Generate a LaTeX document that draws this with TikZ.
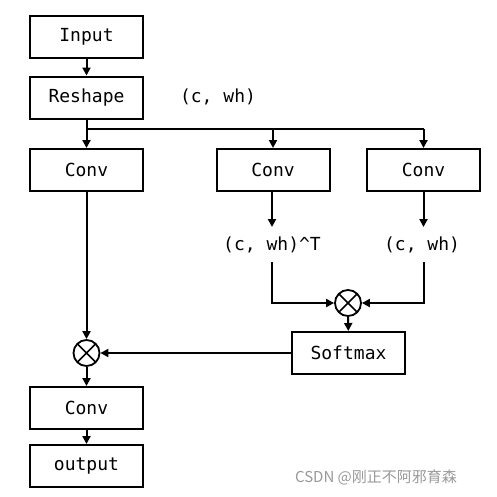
\documentclass[tikz,border=0pt]{standalone}
\usepackage{fontspec}
\setmonofont{DejaVu Sans Mono}
\newfontfamily\cjk{Noto Sans CJK SC}
\usetikzlibrary{arrows.meta}
\begin{document}
\begin{tikzpicture}[x=1pt,y=-1pt,
  box/.style={draw,line width=2pt,minimum width=113pt,minimum height=42pt,inner sep=0pt,font=\ttfamily\fontsize{18}{20}\selectfont},
  lbl/.style={inner sep=0pt,font=\ttfamily\fontsize{18}{20}\selectfont},
  otimes/.style={draw,circle,line width=1.8pt,minimum size=26pt,inner sep=0pt,
    path picture={\draw[line width=1.5pt] (path picture bounding box.south west)--(path picture bounding box.north east)
      (path picture bounding box.north west)--(path picture bounding box.south east);}},
  arr/.style={line width=2pt,-{Triangle[length=8pt,width=8pt]}},
  ln/.style={line width=2pt}]
\useasboundingbox[fill=white] (0,0) rectangle (497,496);
\node[box] (in) at (86.5,37) {Input};
\node[box] (rs) at (86.5,97.5) {Reshape};
\node[lbl] (l1) at (218,97) {(c, wh)};
\node[box] (c1) at (86.5,170) {Conv};
\node[box] (c2) at (273,170) {Conv};
\node[box] (c3) at (423.5,170) {Conv};
\coordinate (br) at (86.5,129);
\node[lbl] (t2) at (272,245) {(c, wh)\textasciicircum T};
\node[lbl] (t3) at (422,245) {(c, wh)};
\node[otimes] (m1) at (348,303) {};
\node[box] (sm) at (348.5,353) {Softmax};
\node[otimes] (m2) at (86.5,353) {};
\node[box] (c4) at (86.5,408) {Conv};
\node[box] (out) at (86.5,466) {output};
\node[inner sep=0pt,text=black!40,font=\cjk\fontsize{15}{17}\selectfont] (wm) at (376,477) {CSDN @刚正不阿邪育森};
\coordinate (e2) at (272,227);
\coordinate (e3) at (423.5,227);
\coordinate (s2) at (272,262);
\coordinate (s3) at (423.5,262);
\draw[arr] (in) -- (rs);
\draw[arr] (rs) -- (c1);
\draw[ln] (br) -- (c3.north |- br);
\draw[arr] (c2.north |- br) -- (c2);
\draw[arr] (c3.north |- br) -- (c3);
\draw[arr] (c2.south -| e2) -- (e2);
\draw[arr] (c3.south) -- (e3);
\draw[arr] (s2) |- (m1);
\draw[arr] (s3) |- (m1);
\draw[arr] (m1) -- (sm);
\draw[arr] (sm) -- (m2);
\draw[arr] (c1) -- (m2);
\draw[arr] (m2) -- (c4);
\draw[arr] (c4) -- (out);
\end{tikzpicture}
\end{document}
